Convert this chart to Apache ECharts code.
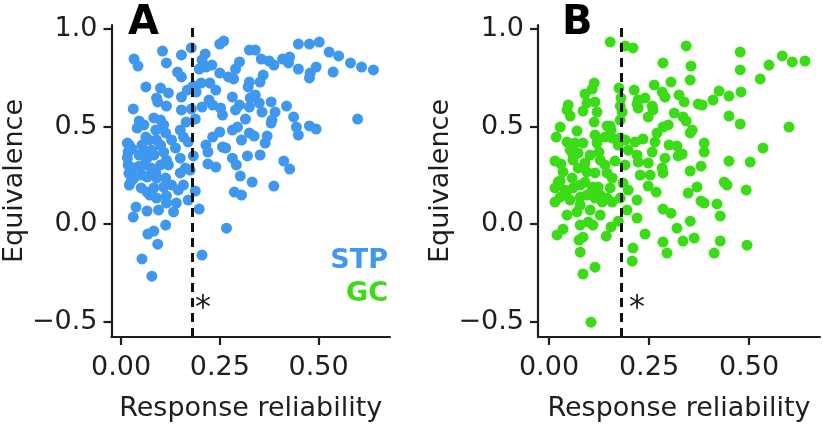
<!DOCTYPE html>
<html><head><meta charset="utf-8">
<script src="https://cdn.jsdelivr.net/npm/echarts@6/dist/echarts.min.js"></script>
<style>html,body{margin:0;padding:0;background:#fff}#c{width:822px;height:427px}</style>
</head><body><div id="c"></div>
<script>
const stpPoints = [
[0.033,0.846],[0.043,0.810],[0.105,0.887],[0.115,0.826],[0.153,0.867],[0.178,0.903],[0.143,0.779],[0.153,0.754],[0.063,0.703],[0.100,0.697],
[0.120,0.672],[0.090,0.646],[0.093,0.626],[0.115,0.605],[0.153,0.651],[0.168,0.687],[0.183,0.708],[0.190,0.677],[0.031,0.590],[0.153,0.585],
[0.178,0.590],[0.165,0.523],[0.188,0.538],[0.046,0.528],[0.058,0.508],[0.041,0.492],[0.083,0.544],[0.100,0.533],[0.108,0.508],[0.088,0.482],
[0.113,0.467],[0.090,0.431],[0.063,0.446],[0.016,0.415],[0.053,0.405],[0.150,0.482],[0.158,0.446],[0.170,0.421],[0.205,0.841],[0.198,0.795],
[0.213,0.872],[0.215,0.805],[0.230,0.815],[0.250,0.774],[0.250,0.923],[0.260,0.938],[0.300,0.831],[0.290,0.795],[0.325,0.892],[0.272,0.754],
[0.285,0.744],[0.203,0.723],[0.225,0.723],[0.240,0.687],[0.223,0.636],[0.205,0.600],[0.232,0.610],[0.252,0.595],[0.257,0.559],[0.282,0.651],
[0.300,0.610],[0.290,0.585],[0.325,0.600],[0.215,0.405],[0.232,0.446],[0.250,0.472],[0.282,0.482],[0.295,0.497],[0.305,0.431],[0.325,0.467],
[0.315,0.538],[0.322,0.703],[0.325,0.728],[0.340,0.892],[0.355,0.846],[0.375,0.836],[0.387,0.815],[0.409,0.846],[0.427,0.856],[0.424,0.826],
[0.449,0.923],[0.477,0.923],[0.502,0.933],[0.527,0.882],[0.551,0.862],[0.581,0.826],[0.609,0.805],[0.639,0.790],[0.449,0.795],[0.479,0.774],
[0.477,0.749],[0.494,0.805],[0.537,0.779],[0.360,0.764],[0.352,0.728],[0.340,0.662],[0.327,0.646],[0.350,0.621],[0.380,0.626],[0.390,0.574],
[0.357,0.574],[0.419,0.605],[0.437,0.549],[0.382,0.533],[0.380,0.518],[0.444,0.497],[0.449,0.456],[0.477,0.503],[0.494,0.487],[0.599,0.538],
[0.337,0.451],[0.370,0.451],[0.365,0.415],[0.018,0.303],[0.021,0.200],[0.038,0.087],[0.031,0.036],[0.066,0.067],[0.113,-0.005],[0.083,-0.036],
[0.068,-0.051],[0.093,-0.103],[0.053,-0.179],[0.078,-0.267],[0.170,0.123],[0.133,0.062],[0.140,0.108],[0.115,0.108],[0.115,0.144],[0.090,0.133],
[0.051,0.185],[0.066,0.164],[0.073,0.149],[0.083,0.185],[0.108,0.190],[0.113,0.236],[0.090,0.236],[0.088,0.262],[0.066,0.241],[0.033,0.287],
[0.046,0.297],[0.033,0.236],[0.026,0.221],[0.058,0.303],[0.066,0.338],[0.083,0.354],[0.078,0.379],[0.058,0.379],[0.028,0.385],[0.021,0.405],
[0.108,0.369],[0.115,0.328],[0.120,0.303],[0.150,0.338],[0.150,0.262],[0.163,0.287],[0.175,0.277],[0.183,0.349],[0.188,0.169],[0.205,-0.159],
[0.267,-0.021],[0.198,0.077],[0.220,0.369],[0.220,0.308],[0.240,0.292],[0.265,0.390],[0.282,0.338],[0.292,0.303],[0.302,0.246],[0.287,0.164],
[0.305,0.149],[0.320,0.349],[0.332,0.215],[0.352,0.354],[0.412,0.323],[0.427,0.282],[0.387,0.195],[0.257,0.395],
[0.016,0.340],[0.020,0.260],[0.046,0.354],[0.071,0.431],[0.100,0.405],[0.128,0.431],[0.138,0.390],[0.128,0.200],[0.145,0.174],[0.100,0.303],
[0.076,0.287],[0.053,0.251],[0.018,0.370],[0.095,0.072],[0.158,0.200]
];
const gcPoints = [
[0.153,0.933],[0.190,0.913],[0.210,0.903],[0.343,0.913],[0.478,0.882],[0.583,0.862],[0.608,0.831],[0.640,0.836],[0.285,0.826],[0.355,0.810],
[0.478,0.790],[0.550,0.815],[0.528,0.744],[0.353,0.738],[0.305,0.728],[0.263,0.713],[0.175,0.697],[0.213,0.687],[0.113,0.723],[0.108,0.692],
[0.090,0.667],[0.283,0.677],[0.290,0.651],[0.325,0.662],[0.338,0.626],[0.373,0.615],[0.383,0.610],[0.425,0.682],[0.410,0.636],[0.450,0.656],
[0.480,0.677],[0.240,0.646],[0.223,0.636],[0.180,0.646],[0.220,0.615],[0.223,0.595],[0.258,0.605],[0.260,0.585],[0.248,0.549],[0.313,0.569],
[0.335,0.549],[0.343,0.528],[0.450,0.554],[0.478,0.513],[0.600,0.497],[0.178,0.605],[0.183,0.574],[0.178,0.533],[0.153,0.503],[0.115,0.626],
[0.095,0.621],[0.120,0.574],[0.085,0.579],[0.048,0.610],[0.045,0.585],[0.053,0.554],[0.113,0.523],[0.145,0.503],[0.155,0.482],[0.028,0.497],
[0.018,0.446],[0.070,0.477],[0.045,0.421],[0.065,0.415],[0.085,0.415],[0.115,0.456],[0.120,0.415],[0.140,0.446],[0.158,0.441],[0.178,0.441],
[0.190,0.431],[0.215,0.421],[0.235,0.436],[0.270,0.467],[0.285,0.497],[0.298,0.508],[0.358,0.482],[0.353,0.467],[0.320,0.400],[0.300,0.405],
[0.333,0.359],[0.323,0.349],[0.388,0.415],[0.388,0.369],[0.258,0.369],[0.265,0.421],[0.053,0.379],[0.060,0.354],[0.073,0.364],[0.125,0.369],
[0.173,0.405],[0.198,0.379],[0.535,0.390],[0.220,0.354],[0.015,0.323],[0.030,0.308],[0.060,0.328],[0.090,0.313],[0.165,0.323],[0.190,0.303],
[0.223,0.318],[0.248,0.313],[0.283,0.287],[0.285,0.262],[0.290,0.338],[0.353,0.272],[0.380,0.297],[0.450,0.323],[0.503,0.318],[0.228,0.251],
[0.253,0.251],[0.248,0.195],[0.268,0.164],[0.348,0.159],[0.370,0.190],[0.438,0.215],[0.445,0.200],[0.493,0.174],[0.380,0.118],[0.388,0.108],
[0.420,0.103],[0.428,0.041],[0.353,0.015],[0.320,-0.021],[0.285,0.077],[0.305,0.056],[0.028,0.221],[0.058,0.236],[0.040,0.174],[0.060,0.185],
[0.015,0.113],[0.028,0.138],[0.045,0.046],[0.095,0.267],[0.115,0.262],[0.145,0.262],[0.158,0.236],[0.090,0.215],[0.110,0.190],[0.153,0.185],
[0.095,0.149],[0.115,0.133],[0.145,0.133],[0.078,0.097],[0.070,0.062],[0.103,0.072],[0.098,0.010],[0.110,-0.005],[0.133,0.113],[0.158,0.113],
[0.178,0.133],[0.198,0.174],[0.220,0.123],[0.195,0.072],[0.220,0.031],[0.173,0.015],[0.155,-0.015],[0.143,-0.062],[0.185,0.210],[0.123,0.190],
[0.108,0.174],[0.078,0.138],[0.015,0.185],[0.023,0.215],[0.043,0.159],[0.240,-0.051],[0.210,-0.123],[0.208,-0.190],[0.115,-0.221],[0.085,-0.256],
[0.105,-0.503],[0.078,-0.144],[0.075,-0.082],[0.085,-0.067],[0.035,-0.026],[0.020,-0.056],[0.285,-0.092],[0.295,-0.149],[0.335,-0.087],[0.363,-0.072],
[0.428,-0.087],[0.413,-0.149],[0.495,-0.108],
[0.035,0.267],[0.073,0.287],[0.128,0.328],[0.103,0.354],[0.140,0.303],[0.078,0.200],[0.128,0.149],[0.053,0.123],[0.128,0.046],[0.078,-0.005]
];
const xTicks = [0, 0.25, 0.5];
const yTicks = [-0.5, 0, 0.5, 1.0];
const threshold = 0.18;
const panelLetters = ['A', 'B'];
const legendNames = ['STP', 'GC'];
const xName = 'Response reliability';
const yName = 'Equivalence';

const colors = ['#3f98ee', '#3bdc17'];
const font = 'DejaVu Sans';
const ink = '#1e1e1e';

const grids = [
  {left: 107, top: 25, width: 283, height: 312},
  {left: 538, top: 25, width: 282, height: 312}
];
const xRanges = [[-0.0242, 0.681], [-0.0275, 0.6775]];
const yRange = [-0.579, 1.0205];

function xAxisCfg(i) {
  return {
    gridIndex: i, type: 'value', min: xRanges[i][0], max: xRanges[i][1],
    name: xName, nameLocation: 'middle', nameGap: 58,
    nameTextStyle: {fontFamily: font, fontSize: 27, color: ink},
    axisLine: {show: true, onZero: false, lineStyle: {color: ink, width: 2.2}},
    axisTick: {show: true, length: 8, customValues: xTicks, lineStyle: {color: ink, width: 2.2}},
    axisLabel: {customValues: xTicks, formatter: v => v.toFixed(2), fontFamily: font, fontSize: 27, color: ink, margin: 17},
    splitLine: {show: false}
  };
}
function yAxisCfg(i) {
  return {
    gridIndex: i, type: 'value', min: yRange[0], max: yRange[1],
    name: yName, nameLocation: 'middle', nameGap: 79, nameRotate: 90,
    nameTextStyle: {fontFamily: font, fontSize: 27, color: ink},
    axisLine: {show: true, onZero: false, lineStyle: {color: ink, width: 2.2}},
    axisTick: {show: true, length: 8, customValues: yTicks, lineStyle: {color: ink, width: 2.2}},
    axisLabel: {customValues: yTicks, formatter: v => (v < 0 ? '\u2212' : '') + Math.abs(v).toFixed(1), fontFamily: font, fontSize: 27, color: ink, margin: 14},
    splitLine: {show: false}
  };
}
function seriesCfg(i, pts) {
  return {
    type: 'scatter', xAxisIndex: i, yAxisIndex: i, data: pts,
    symbol: 'circle', symbolSize: 11,
    itemStyle: {color: colors[i], opacity: 1},
    markLine: {
      silent: true, symbol: ['none', 'none'], label: {show: false},
      lineStyle: {type: [9, 6], color: '#111', width: 3},
      data: [{xAxis: threshold}]
    }
  };
}

const chart = echarts.init(document.getElementById('c'), null, {renderer: 'canvas'});
chart.setOption({
  animation: false,
  backgroundColor: '#fff',
  grid: grids,
  xAxis: [xAxisCfg(0), xAxisCfg(1)],
  yAxis: [yAxisCfg(0), yAxisCfg(1)],
  series: [seriesCfg(0, stpPoints), seriesCfg(1, gcPoints)],
  graphic: [
    {type: 'text', left: 128, top: 4, style: {text: panelLetters[0], font: 'bold 40px "DejaVu Sans"', fill: '#000'}},
    {type: 'text', left: 562, top: 4, style: {text: panelLetters[1], font: 'bold 40px "DejaVu Sans"', fill: '#000'}},
    {type: 'text', x: 203, y: 309, style: {text: '*', font: '32px "DejaVu Sans"', fill: ink, align: 'center', verticalAlign: 'middle'}},
    {type: 'text', x: 637, y: 309, style: {text: '*', font: '32px "DejaVu Sans"', fill: ink, align: 'center', verticalAlign: 'middle'}},
    {type: 'text', x: 388, y: 261, style: {text: legendNames[0], font: 'bold 27px "DejaVu Sans"', fill: colors[0], align: 'right', verticalAlign: 'middle'}},
    {type: 'text', x: 388, y: 294, style: {text: legendNames[1], font: 'bold 27px "DejaVu Sans"', fill: colors[1], align: 'right', verticalAlign: 'middle'}}
  ]
});
</script>
</body></html>
